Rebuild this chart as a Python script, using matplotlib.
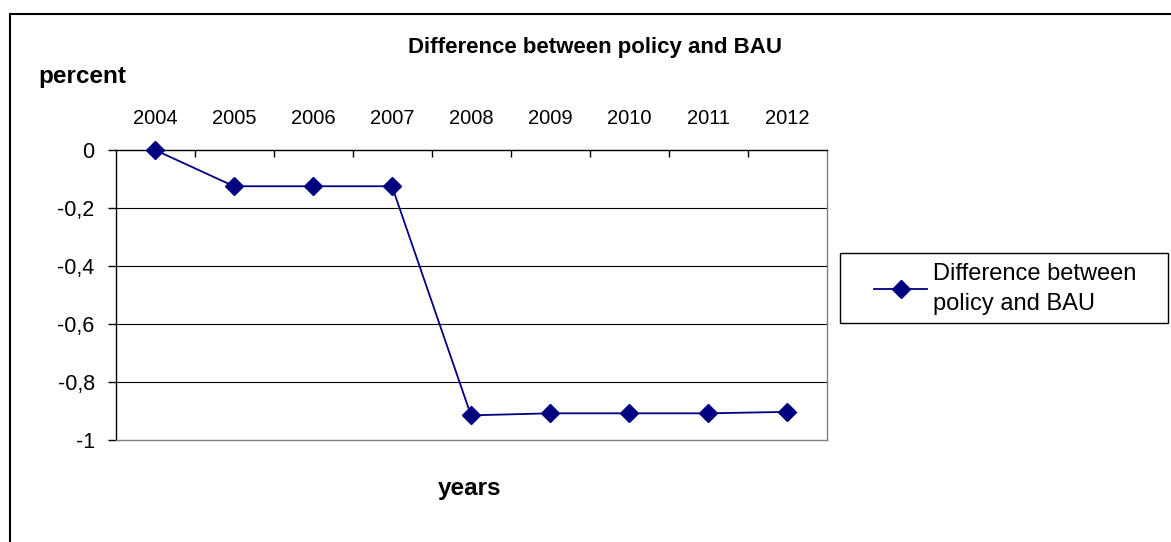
import numpy as np
import matplotlib
matplotlib.use('Agg')
import matplotlib.pyplot as plt
from matplotlib.lines import Line2D
from matplotlib.patches import Rectangle
from matplotlib.ticker import FixedLocator, FuncFormatter

plt.rcParams['font.family'] = ['Liberation Sans', 'DejaVu Sans']

# Dane
years = ['2004', '2005', '2006', '2007', '2008', '2009', '2010', '2011', '2012']
diff = [0.0, -0.125, -0.125, -0.125, -0.915, -0.908, -0.908, -0.908, -0.903]
y_ticks = [0, -0.2, -0.4, -0.6, -0.8, -1]

W, H = 1171, 542
fig = plt.figure(figsize=(W / 100, H / 100), dpi=100)

def fx(px):
    return px / W

def fy(py):
    return 1 - py / H

# ramka wykresu (tylko lewa i gorna krawedz widoczna)
fig.add_artist(Line2D([fx(10), 1], [fy(14), fy(14)], color='black', lw=1.5))
fig.add_artist(Line2D([fx(10), fx(10)], [fy(14), 0], color='black', lw=1.5))

ax = fig.add_axes([fx(115.5), fy(440), fx(826.5) - fx(115.5), fy(150) - fy(440)])
x = np.arange(len(years))
line, = ax.plot(x, diff, color='#000080', lw=1.3, marker='D', markersize=9,
                label='Difference between\npolicy and BAU', clip_on=False, zorder=5)

ax.set_xlim(-0.5, len(years) - 0.5)
ax.set_ylim(-1, 0)

# siatka pozioma
for v in y_ticks[1:-1]:
    ax.axhline(v, color='black', lw=0.8, zorder=1)

ax.spines['top'].set_color('black')
ax.spines['left'].set_color('black')
ax.spines['right'].set_color('#808080')
ax.spines['bottom'].set_color('#808080')
for s in ax.spines.values():
    s.set_linewidth(1.0)

ax.set_yticks(y_ticks)
ax.yaxis.set_major_formatter(FuncFormatter(lambda v, p: ('%g' % v).replace('.', ',')))
ax.tick_params(axis='y', direction='out', length=6, width=1, labelsize=15.5, pad=9)

# os X na gorze
ax.xaxis.tick_top()
ax.set_xticks(x)
ax.set_xticklabels(years)
ax.xaxis.set_minor_locator(FixedLocator(np.arange(0.5, len(years) - 1, 1)))
ax.tick_params(axis='x', which='major', length=0, labelsize=14.5, pad=16)
ax.tick_params(axis='x', which='minor', direction='in', length=5, width=1, top=True, bottom=False)

fig.text(fx(595), fy(48), 'Difference between policy and BAU', ha='center', va='center',
         fontsize=16, fontweight='bold')
fig.text(fx(38), fy(77), 'percent', ha='left', va='center', fontsize=17.5, fontweight='bold')
fig.text(fx(470), fy(489), 'years', ha='center', va='center', fontsize=17.5, fontweight='bold')

# legenda z osobna ramka
fig.add_artist(Rectangle((fx(840), fy(323)), fx(1168) - fx(840), fy(253) - fy(323),
                         transform=fig.transFigure, fill=False, edgecolor='black', lw=1.0))
leg = fig.legend(handles=[line], loc='center left', bbox_to_anchor=(fx(874), fy(289)),
                 fontsize=17, frameon=False, borderpad=0, borderaxespad=0,
                 handlelength=2.25, handletextpad=0.25)
for t in leg.get_texts():
    t.set_linespacing(1.45)

fig.savefig('out.png', dpi=100)
